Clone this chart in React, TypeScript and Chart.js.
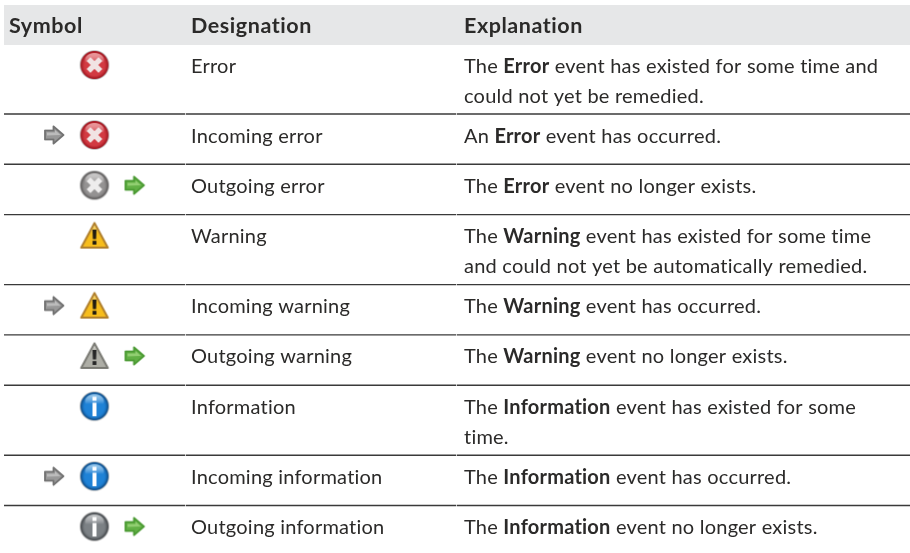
import React, { useEffect, useRef } from "react";
import { Chart, registerables } from "chart.js";

Chart.register(...registerables);

const headers = ["Symbol", "Designation", "Explanation"];
const designations = [
  "Error", "Incoming error", "Outgoing error",
  "Warning", "Incoming warning", "Outgoing warning",
  "Information", "Incoming information", "Outgoing information",
];
const explanations = [
  ["The **Error** event has existed for some time and", "could not yet be remedied."],
  ["An **Error** event has occurred."],
  ["The **Error** event no longer exists."],
  ["The **Warning** event has existed for some time", "and could not yet be automatically remedied."],
  ["The **Warning** event has occurred."],
  ["The **Warning** event no longer exists."],
  ["The **Information** event has existed for some", "time."],
  ["The **Information** event has occurred."],
  ["The **Information** event no longer exists."],
];
const mainIcons = ["error", "error", "errorOff", "warn", "warn", "warnOff", "info", "info", "infoOff"];
const incomingRows = [1, 4, 7];
const outgoingRows = [2, 5, 8];

const FONT = "Lato";
const INK = "#2b2a29";
const BODY_SIZE = 20;
const HEAD_SIZE = 21.5;
const SPACING = "0.22px";
const HEAD_SPACING = "0.55px";
const COL_X = [9, 191, 464];
const SEP_BREAKS = [4, 185, 456, 910];
const ICON_X = 94.5, IN_X = 54, OUT_X = 134.5;
const HEAD_TOP = 5, HEAD_BOTTOM = 45, HEAD_BASE = 33, FIRST_ROW = 44;
const UNIT_ONE = 50.3, UNIT_TWO = 70;
const ICON_DY = 21, BASE_DY = 28.5, LINE_DY = 30;

const rowTops: number[] = [];
{
  let y = FIRST_ROW;
  explanations.forEach((e) => {
    rowTops.push(y);
    y += e.length > 1 ? UNIT_TWO : UNIT_ONE;
  });
}

function sprite(w: number, h: number, draw: (c: CanvasRenderingContext2D) => void) {
  const S = 4;
  const hi = document.createElement("canvas");
  hi.width = w * S;
  hi.height = h * S;
  const c = hi.getContext("2d")!;
  c.scale(S, S);
  draw(c);
  const out = document.createElement("canvas");
  out.width = w;
  out.height = h;
  const o = out.getContext("2d")!;
  o.imageSmoothingQuality = "high";
  o.filter = "blur(0.6px)";
  o.drawImage(hi, 0, 0, w, h);
  return out;
}

function disc(c: CanvasRenderingContext2D, rim: string, dark: string, mid: string, light: string) {
  const cx = 16, cy = 16;
  c.beginPath(); c.arc(cx, cy, 14.8, 0, 7); c.fillStyle = "rgba(140,140,140,.6)"; c.fill();
  c.beginPath(); c.arc(cx, cy, 14, 0, 7); c.fillStyle = rim; c.fill();
  const g = c.createRadialGradient(cx, cy + 2, 2, cx, cy, 12.8);
  g.addColorStop(0, mid); g.addColorStop(0.75, mid); g.addColorStop(1, dark);
  c.beginPath(); c.arc(cx, cy, 12.6, 0, 7); c.fillStyle = g; c.fill();
  const t = c.createLinearGradient(0, 3, 0, 14);
  t.addColorStop(0, light); t.addColorStop(1, "rgba(255,255,255,0)");
  c.beginPath(); c.ellipse(cx, cy - 5, 9.5, 7, 0, 0, 7); c.fillStyle = t; c.fill();
}
function cross(c: CanvasRenderingContext2D, col: string) {
  c.save(); c.translate(16, 16); c.rotate(Math.PI / 4);
  c.fillStyle = col;
  c.fillRect(-8.4, -2.7, 16.8, 5.4);
  c.fillRect(-2.7, -8.4, 5.4, 16.8);
  c.restore();
}
function errorIcon(rim: string, dark: string, mid: string, light: string, x: string) {
  return sprite(32, 32, (c) => { disc(c, rim, dark, mid, light); cross(c, x); });
}
function infoIcon(rim: string, dark: string, mid: string, light: string) {
  return sprite(32, 32, (c) => {
    disc(c, rim, dark, mid, light);
    c.fillStyle = "#fff";
    c.fillRect(14, 6.5, 4, 4);
    c.fillRect(14, 12.5, 4, 13.5);
  });
}
function warnIcon(edge: string, top: string, bottom: string, mark: string) {
  return sprite(32, 32, (c) => {
    const tri = () => {
      c.beginPath(); c.moveTo(16, 3.4); c.lineTo(29.3, 28); c.lineTo(2.7, 28); c.closePath();
    };
    const g = c.createLinearGradient(0, 3, 0, 28);
    g.addColorStop(0, top); g.addColorStop(0.4, bottom); g.addColorStop(1, bottom);
    tri(); c.fillStyle = g; c.fill();
    c.lineJoin = "round"; c.lineWidth = 2; c.strokeStyle = edge; c.stroke();
    c.fillStyle = mark;
    c.beginPath(); c.moveTo(14, 10); c.lineTo(18, 10); c.lineTo(17.6, 19.5); c.lineTo(14.4, 19.5); c.closePath(); c.fill();
    c.fillRect(14.1, 21.2, 3.8, 3.8);
  });
}
function arrowIcon(edge: string, fill: string, inner: string) {
  return sprite(24, 22, (c) => {
    c.beginPath();
    c.moveTo(3, 6.5); c.lineTo(11.5, 6.5); c.lineTo(11.5, 2.4); c.lineTo(21.5, 11);
    c.lineTo(11.5, 19.6); c.lineTo(11.5, 15.5); c.lineTo(3, 15.5); c.closePath();
    c.fillStyle = fill; c.fill();
    c.lineWidth = 1.8; c.lineJoin = "round"; c.strokeStyle = edge; c.stroke();
    c.beginPath();
    c.moveTo(5, 8.5); c.lineTo(13, 8.5); c.lineTo(13, 6); c.lineTo(18.5, 11); c.lineTo(5, 11.5); c.closePath();
    c.fillStyle = inner; c.fill();
  });
}

const tablePlugin = {
  id: "tableText",
  beforeDatasetsDraw(chart: any) {
    const { ctx, scales } = chart;
    const X = scales.x, Y = scales.y;
    ctx.save();
    ctx.fillStyle = "#e6e7e8";
    const x0 = X.getPixelForValue(SEP_BREAKS[0]);
    const yt = Y.getPixelForValue(HEAD_TOP);
    ctx.fillRect(x0, yt, X.getPixelForValue(910) - x0, Y.getPixelForValue(HEAD_BOTTOM) - yt);
    ctx.restore();
  },
  afterDatasetsDraw(chart: any) {
    const { ctx, scales } = chart;
    const X = scales.x, Y = scales.y;
    ctx.save();
    ctx.fillStyle = INK;
    ctx.textBaseline = "alphabetic";
    ctx.textAlign = "left";
    ctx.letterSpacing = HEAD_SPACING;
    ctx.font = `700 ${HEAD_SIZE}px ${FONT}`;
    headers.forEach((h, i) => ctx.fillText(h, X.getPixelForValue(COL_X[i]), Y.getPixelForValue(HEAD_BASE)));
    ctx.letterSpacing = SPACING;
    rowTops.forEach((top, r) => {
      const base = top + BASE_DY;
      ctx.font = `400 ${BODY_SIZE}px ${FONT}`;
      ctx.fillText(designations[r], X.getPixelForValue(COL_X[1]), Y.getPixelForValue(base));
      explanations[r].forEach((line, li) => {
        let px = X.getPixelForValue(COL_X[2]);
        const py = Y.getPixelForValue(base + li * LINE_DY);
        line.split("**").forEach((run, k) => {
          ctx.font = `${k % 2 ? 700 : 400} ${BODY_SIZE}px ${FONT}`;
          ctx.fillText(run, px, py);
          px += ctx.measureText(run).width;
        });
      });
    });
    ctx.restore();
  },
};

export default function App() {
  const ref = useRef<HTMLCanvasElement>(null);
  useEffect(() => {
    const icons: Record<string, HTMLCanvasElement> = {
      error: errorIcon("#a81f28", "#b3222b", "#d23a42", "#ef9a9c", "#f1e4e4"),
      errorOff: errorIcon("#666464", "#767474", "#949292", "#cfcdcd", "#eeeded"),
      warn: warnIcon("#b07f2c", "#fbeeb0", "#f7bd1c", "#1f1a12"),
      warnOff: warnIcon("#7a7a74", "#e6e6e0", "#aeaea6", "#262626"),
      info: infoIcon("#125592", "#1563aa", "#1f82d6", "#9fd0f2"),
      infoOff: infoIcon("#4c5054", "#5c6064", "#7c8185", "#c9ccce"),
    };
    const inArrow = arrowIcon("#727272", "#989898", "#bcbcbc");
    const outArrow = arrowIcon("#4a9a32", "#62b045", "#92cf72");

    const separators = rowTops.slice(1).flatMap((y) =>
      SEP_BREAKS.slice(0, -1).map((x, i) => ({
        type: "line" as const,
        data: [{ x: i ? x + 0.7 : x, y }, { x: SEP_BREAKS[i + 1], y }],
        borderColor: "#3a3a3a",
        borderWidth: 1.4,
        pointRadius: 0,
      }))
    );
    const iconSets = Object.keys(icons).map((k) => ({
      type: "scatter" as const,
      data: mainIcons.flatMap((m, r) => (m === k ? [{ x: ICON_X, y: rowTops[r] + ICON_DY }] : [])),
      pointStyle: icons[k] as any,
    }));
    const inSet = {
      type: "scatter" as const,
      data: incomingRows.map((r) => ({ x: IN_X, y: rowTops[r] + ICON_DY })),
      pointStyle: inArrow as any,
    };
    const outSet = {
      type: "scatter" as const,
      data: outgoingRows.map((r) => ({ x: OUT_X, y: rowTops[r] + ICON_DY })),
      pointStyle: outArrow as any,
    };

    const chart = new Chart(ref.current!, {
      type: "scatter",
      data: { datasets: [...separators, ...iconSets, inSet, outSet] as any },
      options: {
        animation: false,
        responsive: false,
        layout: { padding: 0, autoPadding: false },
        plugins: { legend: { display: false }, tooltip: { enabled: false }, title: { display: false } },
        scales: {
          x: { type: "linear", min: 0, max: 910, display: false },
          y: { type: "linear", min: 0, max: 553, reverse: true, display: false },
        },
      },
      plugins: [tablePlugin],
    });
    return () => chart.destroy();
  }, []);
  return (
    <canvas
      ref={ref}
      width={910}
      height={553}
      style={{ position: "absolute", left: 0, top: 0, display: "block", background: "#fff" }}
    />
  );
}
